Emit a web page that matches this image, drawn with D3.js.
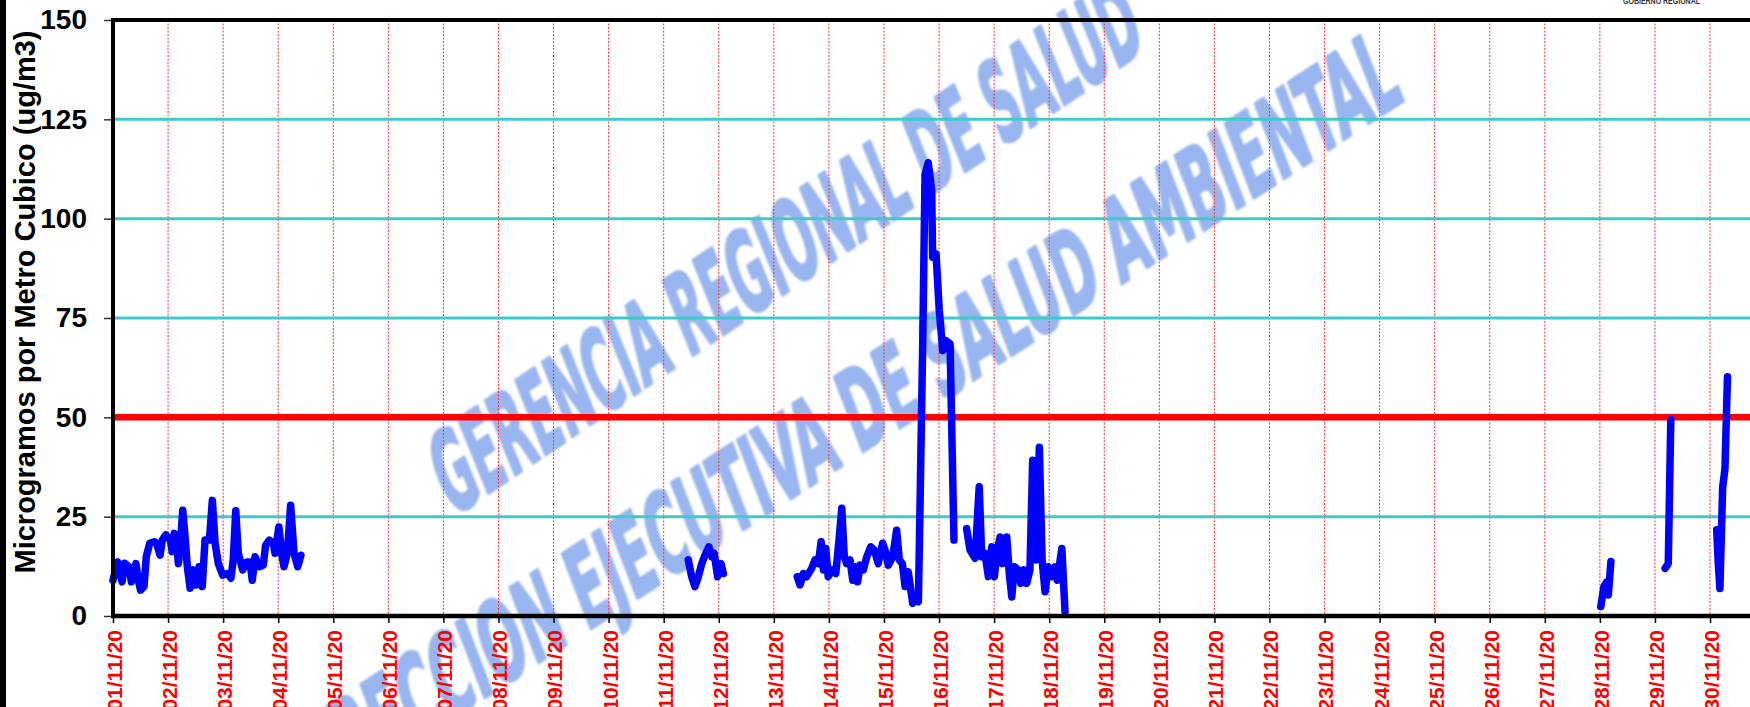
<!DOCTYPE html>
<html>
<head>
<meta charset="utf-8">
<script src="https://cdn.jsdelivr.net/npm/d3@7"></script>
<style>
  html, body { margin: 0; padding: 0; background: #fff; overflow: hidden; }
  svg { display: block; font-family: 'Liberation Sans', Arial, sans-serif; }
</style>
</head>
<body>
<svg id="chart" width="1750" height="707"></svg>
<script>
'use strict'

// ------ Datos: PM2.5 horario, noviembre 2020 ------
// hora = horas desde 01/11/20 00:00, valor en ug/m3
const fechas = ['01/11/20', '02/11/20', '03/11/20', '04/11/20', '05/11/20', '06/11/20',
  '07/11/20', '08/11/20', '09/11/20', '10/11/20', '11/11/20', '12/11/20', '13/11/20',
  '14/11/20', '15/11/20', '16/11/20', '17/11/20', '18/11/20', '19/11/20', '20/11/20',
  '21/11/20', '22/11/20', '23/11/20', '24/11/20', '25/11/20', '26/11/20', '27/11/20',
  '28/11/20', '29/11/20', '30/11/20']
const yTicks = [0, 25, 50, 75, 100, 125, 150]
const gridY = [25, 75, 100, 125]
const limite = 50

const tramo1 = [[0, 9], [2, 13.6], [4, 8.6], [5, 13.3], [7, 12.4], [8, 8.6], [10, 13.2], [11, 9],
  [12, 6.5], [13.5, 7.4], [14.5, 14.9], [16, 18.3], [18, 18.7], [19, 18.3], [20.5, 15.3],
  [21.5, 19.1], [23, 20.4], [25, 19.1], [25.8, 16.2], [26.7, 20.8], [27.4, 20.4], [28.5, 13.2],
  [29.2, 16.6], [30.4, 26.6], [31.4, 19.9], [32.4, 12.4], [33.6, 7], [35, 11.6], [36.2, 7.8],
  [37.5, 12.4], [38.9, 7.4], [40.1, 19.1], [42, 19.1], [43.3, 29.1], [44.5, 18.3], [45.9, 13.2],
  [47.8, 10.3], [50, 10.7], [51.4, 9.5], [52.4, 14.1], [53.5, 26.5], [54.6, 15.8], [56.5, 11.6],
  [58.3, 13.6], [59.7, 13.6], [60.7, 9], [61.9, 14.9], [63.8, 12.4], [65.5, 12.8], [66.5, 17.8],
  [68.1, 19.1], [69.9, 18.3], [70.6, 15.8], [72.3, 22.4], [73.5, 15.8], [74.5, 12.4], [76, 15.8],
  [77.4, 27.9], [78.9, 15.8], [80.5, 12.4], [81.9, 15.3]]
const tramo2 = [[250.7, 14.1], [252.2, 9.9], [253.6, 7.4], [255.1, 9.9], [256.6, 13.2], [258, 15.3],
  [259.7, 17.4], [260.9, 14.9], [262, 15.8], [263.5, 9.9], [265, 13.2], [266, 10.7]]
const tramo3 = [[298.2, 9.9], [299.4, 7.8], [300.8, 10.7], [302.3, 9.9], [304.5, 12], [305.9, 14.1],
  [307.4, 13.2], [308.6, 18.7], [309.6, 11.6], [310.6, 17], [311.7, 9.9], [313.5, 11.6], [315, 10.7],
  [316.4, 19.1], [317.6, 27.1], [318.7, 14.9], [319.7, 13.2], [321.2, 14.1], [322.4, 9], [323.4, 12.4],
  [324.5, 8.6], [325.6, 12.8], [327, 11.6], [328.5, 14.9], [330.2, 17.4], [331.8, 16.6], [333.5, 13.2],
  [335.4, 18.3], [336.7, 16.2], [337.9, 12.8], [339.8, 14.9], [341.5, 21.6], [342.7, 14.1], [344, 13.2],
  [345.2, 7.4], [346.6, 11.1], [348.5, 3.2], [350, 4], [351, 3.6], [351.7, 27.5], [352.9, 69.3],
  [353.9, 111.2], [355.3, 114.1], [356.8, 107], [357.2, 90.3], [358.7, 91.1], [360.1, 76.9],
  [361.6, 66.8], [363, 69.3], [364.8, 68.5], [366.5, 19.1]]
const tramo4 = [[372, 22], [373.5, 16.6], [375.7, 14.5], [377.5, 32.5], [378.6, 14.9], [380, 15.8],
  [381.5, 9.9], [383, 17.4], [384.1, 9.9], [385.4, 16.6], [386.6, 19.9], [387.7, 13.2], [389.5, 19.9],
  [390.6, 10.7], [391.7, 4.8], [392.8, 12.4], [394.5, 11.6], [395.6, 8.2], [397, 11.6], [398.2, 8.2],
  [399.6, 11.6], [400.8, 39.2], [402.3, 14.1], [403.7, 42.5], [404.9, 14.1], [406.2, 6.1],
  [407.6, 12.4], [409.1, 9.9], [410.5, 12.4], [411.5, 9], [413.5, 17], [414.9, 1.1]]
const tramo5 = [[648.4, 2.4], [649.8, 7.5], [651, 8.6], [651.7, 5.3], [652.8, 13.7]]
const tramo6 = [[676.4, 12], [677.8, 13.2], [678.9, 49.4]]
const tramo7 = [[698.9, 21.7], [699.6, 13.2], [700.3, 6.9], [701.5, 32.4], [702.5, 37], [703.6, 60.2]]
const tramos = [tramo1, tramo2, tramo3, tramo4, tramo5, tramo6, tramo7]

// ------ Escalas ------
const left = 113
const dayW = 55.07
const x = d3.scaleLinear().domain([0, 720]).range([left, left + 30 * dayW])
const y = d3.scaleLinear().domain([0, 150]).range([616, 20])

const svg = d3.select('#chart')

svg.append('rect').attr('width', 1750).attr('height', 707).attr('fill', '#fff')

// ------ Marca de agua ------
const defs = svg.append('defs')
defs.append('filter').attr('id', 'suave')
  .append('feGaussianBlur').attr('stdDeviation', 1.3)

const marca = svg.append('g')
  .attr('fill', '#99b5ef')
  .attr('stroke', '#99b5ef')
  .attr('stroke-width', 3)
  .attr('stroke-linejoin', 'round')
  .attr('filter', 'url(#suave)')
  .style('font-family', "'Liberation Sans Narrow', 'DejaVu Sans Condensed', sans-serif")
  .style('font-weight', 'bold')
  .style('font-size', '108px')

marca.append('text')
  .attr('transform', 'translate(452,518) rotate(-34) skewX(-12)')
  .attr('textLength', 840)
  .attr('lengthAdjust', 'spacingAndGlyphs')
  .text('GERENCIA REGIONAL DE SALUD')

marca.append('text')
  .attr('transform', 'translate(298,819) rotate(-33) skewX(-12)')
  .attr('textLength', 1320)
  .attr('lengthAdjust', 'spacingAndGlyphs')
  .text('DIRECCION EJECUTIVA DE SALUD AMBIENTAL')

// ------ Rejilla ------
svg.append('g').selectAll('line')
  .data(fechas.slice(1))
  .join('line')
  .attr('x1', (d, i) => x((i + 1) * 24))
  .attr('x2', (d, i) => x((i + 1) * 24))
  .attr('y1', y(150))
  .attr('y2', y(0))
  .attr('stroke', '#ff3030')
  .attr('stroke-width', 1)
  .attr('stroke-dasharray', '2,1.5')

svg.append('g').selectAll('line')
  .data(gridY)
  .join('line')
  .attr('x1', left)
  .attr('x2', 1750)
  .attr('y1', d => y(d))
  .attr('y2', d => y(d))
  .attr('stroke', '#3ecaca')
  .attr('stroke-width', 3)

// limite ECA
svg.append('line')
  .attr('x1', left).attr('x2', 1750)
  .attr('y1', y(limite)).attr('y2', y(limite))
  .attr('stroke', '#ff0000')
  .attr('stroke-width', 6.5)

// ------ Serie ------
const renderPath = d3.line()
  .x(d => x(d[0]))
  .y(d => y(d[1]))

svg.append('g').selectAll('path')
  .data(tramos)
  .join('path')
  .attr('d', renderPath)
  .attr('fill', 'none')
  .attr('stroke', '#0000ff')
  .attr('stroke-width', 7.5)
  .attr('stroke-linejoin', 'round')
  .attr('stroke-linecap', 'round')

// ------ Ejes ------
const yAxis = svg.append('g')
  .attr('transform', `translate(${left},0)`)
  .call(d3.axisLeft(y).tickValues(yTicks).tickSize(9).tickPadding(17))
yAxis.select('.domain').remove()
yAxis.selectAll('line').attr('stroke', '#333').attr('stroke-width', 1.5)
yAxis.selectAll('text')
  .attr('fill', '#000')
  .style('font-size', '28px')
  .style('font-weight', 'bold')
  .style('font-family', "'Liberation Sans', Arial, sans-serif")

const xAxis = svg.append('g')
  .attr('transform', `translate(0,${y(0)})`)
  .call(d3.axisBottom(x)
    .tickValues(fechas.map((d, i) => i * 24))
    .tickFormat((d, i) => fechas[i])
    .tickSize(7))
xAxis.select('.domain').remove()
xAxis.selectAll('line').attr('stroke', '#000').attr('stroke-width', 1.5)
xAxis.selectAll('text')
  .attr('transform', 'rotate(-90)')
  .attr('x', -14)
  .attr('y', 0)
  .attr('dy', '0.4em')
  .attr('text-anchor', 'end')
  .attr('fill', '#ff0000')
  .style('font-size', '21px')
  .style('font-weight', 'bold')
  .style('font-family', "'Liberation Sans', Arial, sans-serif")

// marco del grafico
svg.append('line').attr('x1', left).attr('x2', 1750).attr('y1', 20).attr('y2', 20)
  .attr('stroke', '#000').attr('stroke-width', 4)
svg.append('line').attr('x1', left - 2).attr('x2', 1750).attr('y1', y(0)).attr('y2', y(0))
  .attr('stroke', '#000').attr('stroke-width', 4.5)
svg.append('line').attr('x1', left).attr('x2', left).attr('y1', 18).attr('y2', y(0) + 2)
  .attr('stroke', '#000').attr('stroke-width', 4)

// borde exterior
svg.append('line').attr('x1', 3).attr('x2', 3).attr('y1', 0).attr('y2', 707)
  .attr('stroke', '#000').attr('stroke-width', 6)

// titulo del eje Y
svg.append('text')
  .attr('transform', 'translate(35,302) rotate(-90)')
  .attr('text-anchor', 'middle')
  .style('font-size', '29px')
  .style('font-weight', 'bold')
  .text('Microgramos por Metro Cubico (ug/m3)')

// logo cortado arriba a la derecha
svg.append('text')
  .attr('x', 1623).attr('y', 4)
  .attr('textLength', 77)
  .attr('lengthAdjust', 'spacingAndGlyphs')
  .attr('fill', '#333')
  .style('font-size', '9px')
  .style('font-weight', 'bold')
  .text('GOBIERNO REGIONAL')
</script>
</body>
</html>
